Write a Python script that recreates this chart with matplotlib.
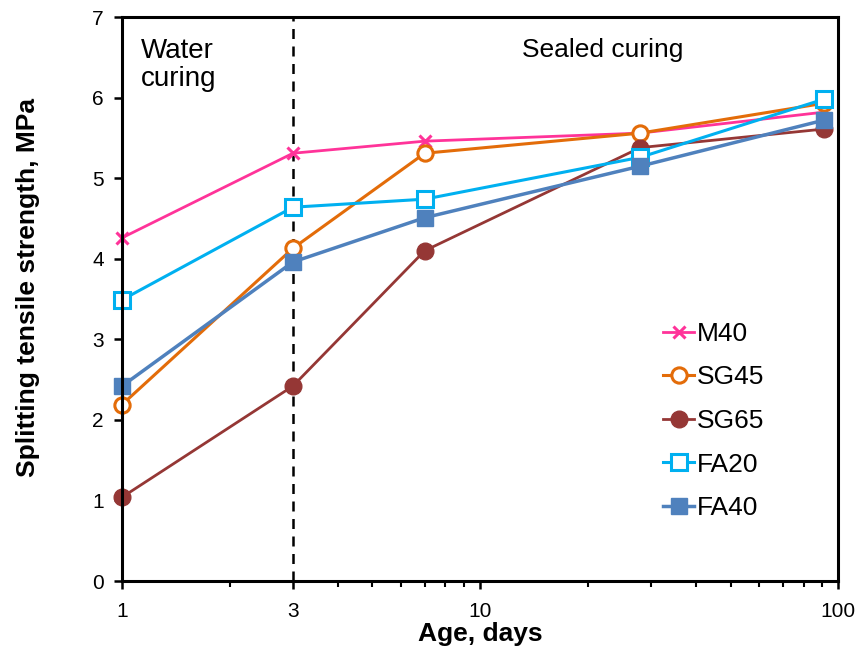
import matplotlib.pyplot as plt
from matplotlib.ticker import FixedLocator, NullFormatter

plt.rcParams['font.family'] = ['Liberation Sans', 'DejaVu Sans']

# Age in days and splitting tensile strength (MPa)
age = [1, 3, 7, 28, 91]
m40 = [4.26, 5.31, 5.46, 5.56, 5.82]
sg45 = [2.19, 4.13, 5.31, 5.56, 5.93]
sg65 = [1.04, 2.42, 4.10, 5.38, 5.61]
fa20 = [3.49, 4.64, 4.74, 5.26, 5.98]
fa40 = [2.42, 3.96, 4.51, 5.15, 5.72]

fig = plt.figure(figsize=(8.63, 6.58), dpi=100)
ax = fig.add_axes([0.1414, 0.117, 0.83, 0.857])

ax.axvline(3, color='black', linestyle=(0, (4, 3)), linewidth=1.8, zorder=1)

kw = dict(clip_on=False)
ax.plot(age, m40, color='#FF3399', marker='x', markersize=9, markeredgewidth=2.2, linewidth=2, label='M40', **kw)
ax.plot(age, sg45, color='#E36C09', marker='o', markersize=11, markerfacecolor='white', markeredgewidth=2.2, linewidth=2.2, label='SG45', **kw)
ax.plot(age, sg65, color='#953735', marker='o', markersize=12, linewidth=2, label='SG65', **kw)
ax.plot(age, fa20, color='#00B0F0', marker='s', markersize=11, markerfacecolor='white', markeredgewidth=2.2, linewidth=2.2, label='FA20', **kw)
ax.plot(age, fa40, color='#4F81BD', marker='s', markersize=12, linewidth=2.5, label='FA40', **kw)

ax.set_xscale('log')
ax.set_xlim(1, 100)
ax.set_ylim(0, 7)
ax.xaxis.set_major_locator(FixedLocator([1, 3, 10, 100]))
ax.set_xticklabels(['1', '3', '10', '100'])
ax.xaxis.set_minor_locator(FixedLocator([2, 4, 5, 6, 7, 8, 9, 20, 30, 40, 50, 60, 70, 80, 90]))
ax.xaxis.set_minor_formatter(NullFormatter())
ax.set_yticks(range(0, 8))

ax.tick_params(axis='both', which='major', direction='out', length=6, width=1.8, labelsize=15)
ax.tick_params(axis='x', which='major', pad=9)
ax.tick_params(axis='y', which='major', pad=7)
ax.tick_params(axis='x', which='minor', direction='out', length=4, width=1.5)
for s in ax.spines.values():
    s.set_linewidth(2.2)

ax.set_xlabel('Age, days', fontsize=19, fontweight='bold', labelpad=1)
ax.set_ylabel('Splitting tensile strength, MPa', fontsize=19, fontweight='bold')
ax.yaxis.set_label_coords(-0.114, 0.52)

ax.text(1.13, 6.74, 'Water\ncuring', fontsize=20, va='top', ha='left', linespacing=1.1)
ax.text(22, 6.74, 'Sealed curing', fontsize=19, va='top', ha='center')

ax.legend(loc='lower right', bbox_to_anchor=(0.93, 0.066), frameon=False, fontsize=19,
          handlelength=1.2, handletextpad=0.1, labelspacing=0.74)

fig.savefig('out.png', dpi=100)
